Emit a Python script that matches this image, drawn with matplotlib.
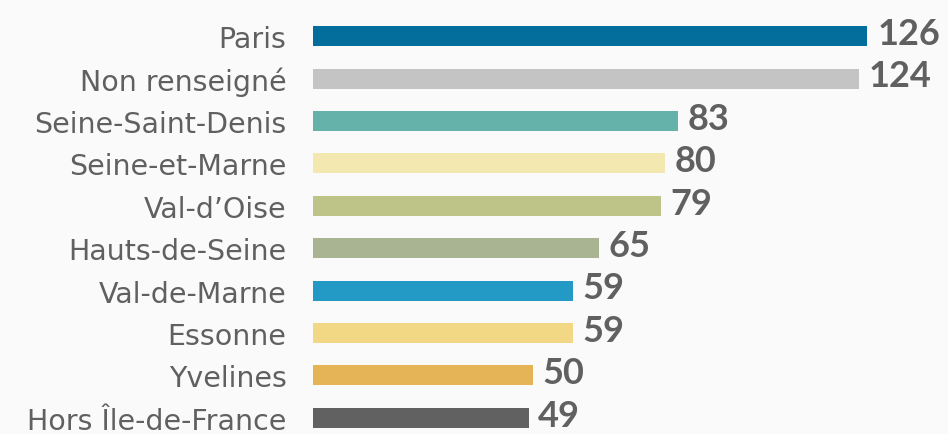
import matplotlib.pyplot as plt

# Data
departements = [
    "Paris", "Non renseigné", "Seine-Saint-Denis", "Seine-et-Marne", "Val-d\u2019Oise",
    "Hauts-de-Seine", "Val-de-Marne", "Essonne", "Yvelines", "Hors Île-de-France",
]
effectifs = [126, 124, 83, 80, 79, 65, 59, 59, 50, 49]
couleurs = [
    "#036d9c", "#c4c4c4", "#64b2a9", "#f3e9b0", "#bec387",
    "#a9b592", "#2399c6", "#f2d785", "#e5b456", "#616161",
]

plt.rcParams['font.family'] = ['Lato', 'DejaVu Sans']
bg = "#fafafa"
text_col = "#606060"

fig = plt.figure(figsize=(9.48, 4.35), dpi=100, facecolor=bg)
# axes placed in figure fraction so the bars start where the reference's do
ax = fig.add_axes([313 / 948, -5 / 435, 631 / 948, 424 / 435])
ax.set_facecolor(bg)

y = list(range(len(departements)))
ax.barh(y, effectifs, height=0.47, color=couleurs)

ax.set_xlim(0, 143.4)
ax.set_ylim(len(departements) - 0.5, -0.5)

# value labels after each bar
for yi, v in zip(y, effectifs):
    ax.annotate(str(v), (v, yi), xytext=(7, 2), textcoords="offset points",
                va="center", ha="left", fontsize=26, fontweight="bold",
                color=text_col)

ax.set_yticks(y)
ax.set_yticklabels(departements, fontsize=20.5, color=text_col,
                   family=['DejaVu Sans'])
ax.tick_params(axis="y", length=0, pad=19)
ax.set_xticks([])
for s in ax.spines.values():
    s.set_visible(False)

fig.savefig("out.png", dpi=100, facecolor=bg)
